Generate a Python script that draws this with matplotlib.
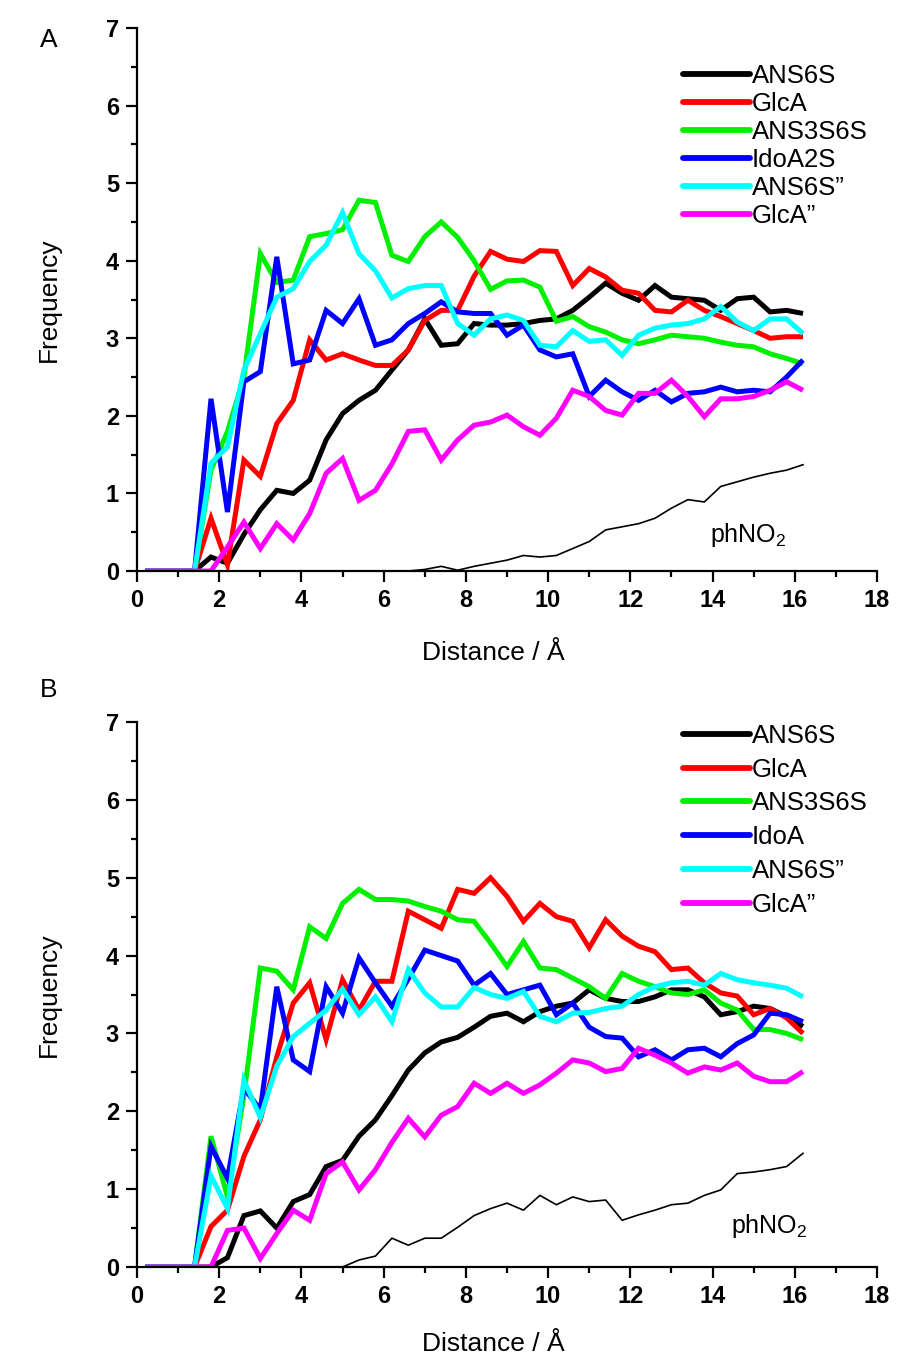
import matplotlib
matplotlib.use("Agg")
import matplotlib.pyplot as plt
from matplotlib.ticker import MultipleLocator

plt.rcParams['font.family'] = ['Liberation Sans', 'DejaVu Sans']
plt.rcParams['mathtext.fontset'] = 'custom'
plt.rcParams['mathtext.rm'] = 'Liberation Sans'

# ---------------- data ----------------
distance = [0.2, 0.6, 1.0, 1.4, 1.8, 2.2, 2.6, 3.0, 3.4, 3.8, 4.2, 4.6, 5.0, 5.4,
            5.8, 6.2, 6.6, 7.0, 7.4, 7.8, 8.2, 8.6, 9.0, 9.4, 9.8, 10.2, 10.6,
            11.0, 11.4, 11.8, 12.2, 12.6, 13.0, 13.4, 13.8, 14.2, 14.6, 15.0,
            15.4, 15.8, 16.2]

labels_a = ["ANS6S", "GlcA", "ANS3S6S", "IdoA2S", "ANS6S\u201d", "GlcA\u201d"]
labels_b = ["ANS6S", "GlcA", "ANS3S6S", "IdoA", "ANS6S\u201d", "GlcA\u201d"]
colors = ["#000000", "#ff0000", "#00f000", "#0000ff", "#00ffff", "#ff00ff"]

# Panel A
ans6s_a = [0, 0, 0, 0, 0.18, 0.10, 0.47, 0.79, 1.04, 1.00, 1.17, 1.69, 2.03, 2.20,
           2.33, 2.59, 2.85, 3.25, 2.91, 2.93, 3.19, 3.17, 3.17, 3.19, 3.23, 3.25,
           3.36, 3.53, 3.71, 3.58, 3.49, 3.68, 3.53, 3.51, 3.49, 3.36, 3.51, 3.53,
           3.34, 3.36, 3.32]
glca_a = [0, 0, 0, 0, 0.68, 0.08, 1.43, 1.22, 1.90, 2.20, 2.98, 2.72, 2.80, 2.72,
          2.65, 2.65, 2.85, 3.23, 3.36, 3.36, 3.80, 4.12, 4.02, 3.99, 4.13, 4.12,
          3.68, 3.90, 3.79, 3.62, 3.58, 3.36, 3.34, 3.49, 3.36, 3.28, 3.19, 3.10,
          3.00, 3.02, 3.02]
ans3s6s_a = [0, 0, 0, 0, 1.30, 1.80, 2.50, 4.09, 3.72, 3.75, 4.31, 4.35, 4.40, 4.78,
             4.75, 4.07, 3.99, 4.31, 4.50, 4.30, 4.00, 3.63, 3.74, 3.75, 3.66, 3.22,
             3.28, 3.15, 3.08, 2.98, 2.93, 2.98, 3.04, 3.02, 3.00, 2.95, 2.91, 2.89,
             2.80, 2.74, 2.67]
idoa2s_a = [0, 0, 0, 0, 2.22, 0.76, 2.44, 2.57, 4.05, 2.67, 2.72, 3.36, 3.19, 3.51,
            2.91, 2.98, 3.19, 3.32, 3.47, 3.34, 3.32, 3.32, 3.04, 3.17, 2.85, 2.76,
            2.80, 2.25, 2.46, 2.31, 2.20, 2.33, 2.18, 2.29, 2.31, 2.37, 2.31, 2.33,
            2.31, 2.50, 2.72]
ans6s2_a = [0, 0, 0, 0, 1.39, 1.60, 2.59, 3.06, 3.53, 3.64, 3.99, 4.20, 4.62, 4.09,
            3.87, 3.52, 3.64, 3.68, 3.68, 3.19, 3.04, 3.25, 3.30, 3.23, 2.91, 2.89,
            3.10, 2.96, 2.98, 2.78, 3.04, 3.13, 3.17, 3.19, 3.25, 3.41, 3.21, 3.10,
            3.25, 3.25, 3.06]
glca2_a = [0, 0, 0, 0, 0, 0.31, 0.63, 0.29, 0.61, 0.40, 0.74, 1.26, 1.45, 0.91,
           1.04, 1.38, 1.80, 1.82, 1.43, 1.69, 1.88, 1.92, 2.01, 1.86, 1.75, 1.97,
           2.33, 2.25, 2.07, 2.01, 2.29, 2.29, 2.46, 2.25, 1.99, 2.22, 2.22, 2.25,
           2.33, 2.44, 2.33]
phno2_a = [0, 0, 0, 0, 0, 0, 0, 0, 0, 0, 0, 0, 0, 0, 0, 0, 0, 0.02, 0.06, 0.01,
           0.06, 0.10, 0.14, 0.20, 0.18, 0.20, 0.29, 0.38, 0.53, 0.57, 0.61, 0.68,
           0.81, 0.92, 0.89, 1.09, 1.15, 1.21, 1.26, 1.30, 1.37]

# Panel B
ans6s_b = [0, 0, 0, 0, 0, 0.12, 0.66, 0.72, 0.50, 0.84, 0.93, 1.29, 1.37, 1.68,
           1.89, 2.20, 2.53, 2.75, 2.89, 2.95, 3.08, 3.22, 3.26, 3.15, 3.28, 3.35,
           3.39, 3.56, 3.45, 3.41, 3.41, 3.47, 3.56, 3.56, 3.47, 3.24, 3.28, 3.35,
           3.32, 3.22, 3.09]
glca_b = [0, 0, 0, 0, 0.52, 0.73, 1.42, 1.89, 2.70, 3.39, 3.65, 2.92, 3.69, 3.30,
          3.67, 3.67, 4.57, 4.46, 4.35, 4.85, 4.80, 5.00, 4.76, 4.44, 4.67, 4.50,
          4.44, 4.10, 4.46, 4.25, 4.12, 4.05, 3.82, 3.84, 3.65, 3.52, 3.48, 3.24,
          3.32, 3.20, 3.00]
ans3s6s_b = [0, 0, 0, 0, 1.68, 0.90, 2.20, 3.84, 3.80, 3.56, 4.37, 4.22, 4.67, 4.85,
             4.72, 4.72, 4.70, 4.63, 4.57, 4.46, 4.44, 4.16, 3.86, 4.18, 3.84, 3.82,
             3.71, 3.60, 3.45, 3.77, 3.67, 3.60, 3.52, 3.50, 3.56, 3.39, 3.30, 3.05,
             3.05, 3.00, 2.92]
idoa_b = [0, 0, 0, 0, 1.55, 1.14, 2.30, 2.02, 3.60, 2.66, 2.51, 3.60, 3.26, 3.97,
          3.65, 3.35, 3.70, 4.07, 4.00, 3.93, 3.62, 3.77, 3.50, 3.56, 3.62, 3.24,
          3.39, 3.08, 2.96, 2.94, 2.70, 2.79, 2.66, 2.79, 2.81, 2.70, 2.87, 2.98,
          3.26, 3.24, 3.15]
ans6s2_b = [0, 0, 0, 0, 1.17, 0.75, 2.40, 1.92, 2.58, 2.96, 3.13, 3.30, 3.57, 3.24,
            3.47, 3.15, 3.82, 3.52, 3.34, 3.34, 3.59, 3.50, 3.45, 3.54, 3.22, 3.15,
            3.26, 3.27, 3.32, 3.35, 3.50, 3.60, 3.65, 3.67, 3.62, 3.77, 3.69, 3.65,
            3.62, 3.58, 3.47]
glca2_b = [0, 0, 0, 0, 0, 0.47, 0.50, 0.11, 0.43, 0.73, 0.60, 1.20, 1.35, 0.99,
           1.25, 1.60, 1.91, 1.67, 1.95, 2.06, 2.36, 2.23, 2.36, 2.23, 2.34, 2.49,
           2.66, 2.62, 2.51, 2.55, 2.81, 2.72, 2.62, 2.49, 2.57, 2.53, 2.62, 2.45,
           2.38, 2.38, 2.51]
phno2_b = [0, 0, 0, 0, 0, 0, 0, 0, 0, 0, 0, 0, 0, 0.09, 0.14, 0.37, 0.28, 0.37,
           0.37, 0.51, 0.66, 0.75, 0.82, 0.73, 0.92, 0.80, 0.90, 0.84, 0.86, 0.60,
           0.67, 0.73, 0.80, 0.82, 0.92, 0.99, 1.20, 1.22, 1.25, 1.29, 1.46]

x_ticks = [0, 2, 4, 6, 8, 10, 12, 14, 16, 18]
y_ticks = [0, 1, 2, 3, 4, 5, 6, 7]

# ---------------- figure ----------------
W, H = 901, 1361
fig = plt.figure(figsize=(W / 100, H / 100), dpi=100)

def frac(x0, y_top, x1, y_bot):
    return [x0 / W, 1 - y_bot / H, (x1 - x0) / W, (y_bot - y_top) / H]

ax_a = fig.add_axes(frac(137, 28, 877, 571))
ax_b = fig.add_axes(frac(137, 722, 877, 1267))

panels = [
    (ax_a, [ans6s_a, glca_a, ans3s6s_a, idoa2s_a, ans6s2_a, glca2_a], phno2_a,
     labels_a, (0.738, 0.933), 0.15, "A", 40, (13.95, 0.38), -0.128),
    (ax_b, [ans6s_b, glca_b, ans3s6s_b, idoa_b, ans6s2_b, glca2_b], phno2_b,
     labels_b, (0.738, 0.997), 0.385, "B", 690, (14.45, 0.44), -0.12),
]

for ax, series, ph, labs, anchor, lspace, letter, ly, phpos, xly in panels:
    for vals, lab, col in zip(series, labs, colors):
        ax.plot(distance, vals, color=col, lw=3.6, label=lab,
                solid_joinstyle='miter', solid_capstyle='butt')
    ax.plot(distance, ph, color='black', lw=1.2)
    ax.text(phpos[0], phpos[1], 'phNO$_\\mathregular{2}$', fontsize=18,
            ha='left', va='baseline')

    ax.set_xlim(0, 18)
    ax.set_ylim(0, 7)
    ax.set_xticks(x_ticks)
    ax.set_yticks(y_ticks)
    ax.xaxis.set_minor_locator(MultipleLocator(1))
    ax.yaxis.set_minor_locator(MultipleLocator(0.5))
    for s in ['top', 'right']:
        ax.spines[s].set_visible(False)
    for s in ['left', 'bottom']:
        ax.spines[s].set_linewidth(1.6)
    ax.tick_params(which='major', direction='out', length=8, width=1.6,
                   labelsize=17, pad=5)
    ax.tick_params(which='minor', direction='out', length=4.5, width=1.6)
    for t in ax.get_xticklabels() + ax.get_yticklabels():
        t.set_fontweight('bold')
    ax.set_xlabel('Distance / \u00c5', fontsize=19)
    ax.set_ylabel('Frequency', fontsize=19)
    ax.xaxis.set_label_coords(0.482, xly)
    ax.yaxis.set_label_coords(-0.103, 0.5)

    leg = ax.legend(loc='upper left', bbox_to_anchor=anchor, frameon=False,
                    fontsize=18.5, handlelength=2.6, handletextpad=0.08,
                    labelspacing=lspace, borderpad=0, borderaxespad=0)
    for line in leg.get_lines():
        line.set_linewidth(4.2)
        line.set_solid_capstyle('round')

    fig.text(40 / W, 1 - ly / H, letter, fontsize=19, ha='left', va='center')

fig.savefig('out.png', dpi=100)
